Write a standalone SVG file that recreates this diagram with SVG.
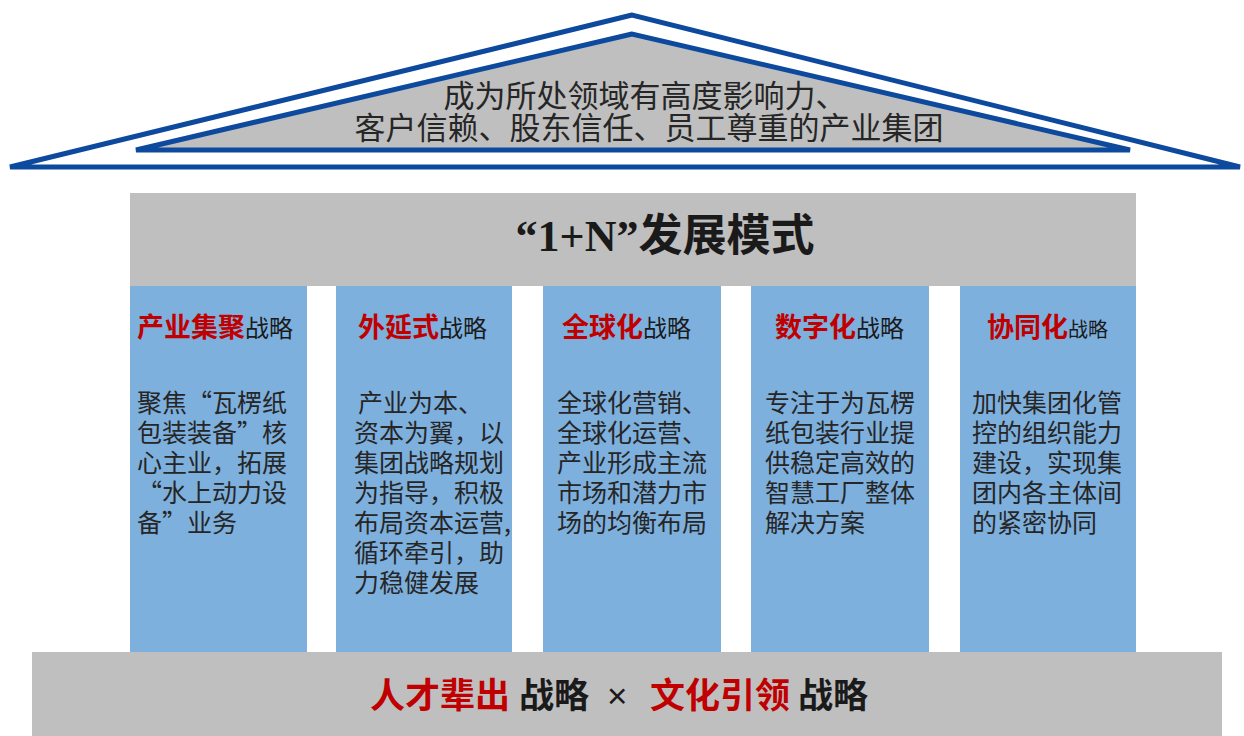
<svg xmlns="http://www.w3.org/2000/svg" width="1244" height="736" viewBox="0 0 1244 736">
<style>
.cjk{font-family:"Noto Sans CJK SC","Noto Sans",sans-serif;}
.roof{font-size:31px;fill:#262626;}
.body{font-size:25px;fill:#262626;}
.red{fill:#c00000;font-weight:700;}
.blk{fill:#1a1a1a;}
.col{fill:#7eb0de;}
.gray{fill:#bfbfbf;}
</style>
<g id="roof">
<polygon points="632,15 10,167 1240,167" fill="#ffffff" stroke="#0d4a9e" stroke-width="5" stroke-linejoin="miter"/>
<polygon points="632,34 136,150 1130,150" fill="#bfbfbf" stroke="#0d4a9e" stroke-width="5"/>
<text class="cjk roof" x="645" y="107" text-anchor="middle">成为所处领域有高度影响力、</text>
<text class="cjk roof" x="649" y="139" text-anchor="middle">客户信赖、股东信任、员工尊重的产业集团</text>
</g>
<g id="model">
<rect class="gray" x="130" y="193" width="1006" height="93"/>
<text x="665" y="251" text-anchor="middle" font-size="44" font-weight="700" fill="#1a1a1a" font-family="'Liberation Serif','Noto Sans CJK SC',serif">“1+N”<tspan font-family="'Noto Sans CJK SC',sans-serif">发展模式</tspan></text>
</g>
<g id="col1">
<rect class="col" x="130" y="286" width="177" height="367"/>
<text class="cjk" x="137" y="337"><tspan class="red" font-size="27">产业集聚</tspan><tspan class="blk" font-size="24">战略</tspan></text>
<text class="cjk body"><tspan x="137" y="412">聚焦“瓦楞纸</tspan><tspan x="137" y="442">包装装备”核</tspan><tspan x="137" y="472">心主业，拓展</tspan><tspan x="137" y="502">“水上动力设</tspan><tspan x="137" y="532">备”业务</tspan></text>
</g>
<g id="col2">
<rect class="col" x="336" y="286" width="176" height="367"/>
<text class="cjk" x="358" y="337"><tspan class="red" font-size="27">外延式</tspan><tspan class="blk" font-size="24">战略</tspan></text>
<text class="cjk body"><tspan x="358" y="412">产业为本、</tspan><tspan x="354" y="442">资本为翼，以</tspan><tspan x="354" y="472">集团战略规划</tspan><tspan x="354" y="502">为指导，积极</tspan><tspan x="354" y="532">布局资本运营,</tspan><tspan x="354" y="562">循环牵引，助</tspan><tspan x="354" y="592">力稳健发展</tspan></text>
</g>
<g id="col3">
<rect class="col" x="543" y="286" width="178" height="367"/>
<text class="cjk" x="562" y="337"><tspan class="red" font-size="27">全球化</tspan><tspan class="blk" font-size="24">战略</tspan></text>
<text class="cjk body"><tspan x="557" y="412">全球化营销、</tspan><tspan x="557" y="442">全球化运营、</tspan><tspan x="557" y="472">产业形成主流</tspan><tspan x="557" y="502">市场和潜力市</tspan><tspan x="557" y="532">场的均衡布局</tspan></text>
</g>
<g id="col4">
<rect class="col" x="751" y="286" width="178" height="367"/>
<text class="cjk" x="775" y="337"><tspan class="red" font-size="27">数字化</tspan><tspan class="blk" font-size="24">战略</tspan></text>
<text class="cjk body"><tspan x="765" y="412">专注于为瓦楞</tspan><tspan x="765" y="442">纸包装行业提</tspan><tspan x="765" y="472">供稳定高效的</tspan><tspan x="765" y="502">智慧工厂整体</tspan><tspan x="765" y="532">解决方案</tspan></text>
</g>
<g id="col5">
<rect class="col" x="960" y="286" width="176" height="367"/>
<text class="cjk" x="987" y="337"><tspan class="red" font-size="27">协同化</tspan><tspan class="blk" font-size="20">战略</tspan></text>
<text class="cjk body"><tspan x="972" y="412">加快集团化管</tspan><tspan x="972" y="442">控的组织能力</tspan><tspan x="972" y="472">建设，实现集</tspan><tspan x="972" y="502">团内各主体间</tspan><tspan x="972" y="532">的紧密协同</tspan></text>
</g>
<g id="base">
<rect class="gray" x="32" y="652" width="1190" height="84"/>
<text class="cjk" y="708" font-size="35" font-weight="700"><tspan class="red" x="370">人才辈出</tspan><tspan class="blk" x="519">战略</tspan><tspan class="blk" x="607" font-weight="400" font-family="'Liberation Sans',sans-serif">×</tspan><tspan class="red" x="650">文化引领</tspan><tspan class="blk" x="798">战略</tspan></text>
</g>
<g id="connectors"></g>
</svg>
